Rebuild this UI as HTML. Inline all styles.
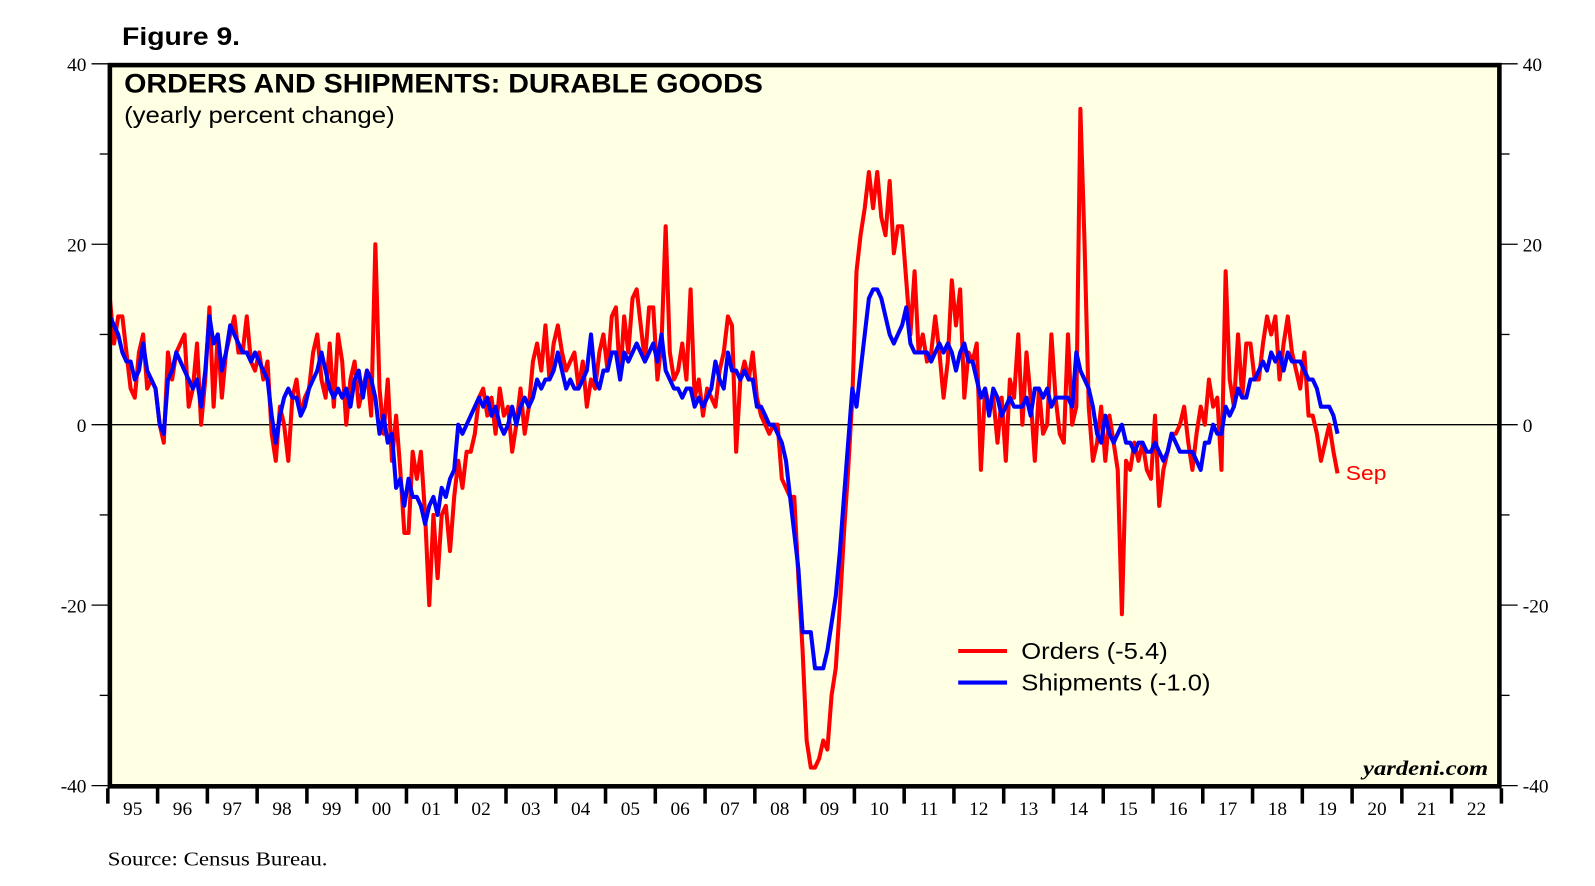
<!DOCTYPE html>
<html><head><meta charset="utf-8"><style>
html,body{margin:0;padding:0;background:#fff;}
svg{display:block;}
</style></head><body>
<svg id="chart" width="1595" height="886" viewBox="0 0 1568 871" preserveAspectRatio="none" xmlns="http://www.w3.org/2000/svg">
<text x="120" y="44" font-family="Liberation Sans, sans-serif" font-weight="bold" font-size="25" textLength="116" lengthAdjust="spacingAndGlyphs">Figure 9.</text>
<rect x="108" y="64" width="1366" height="709" fill="#FFFFE4"/>
<g id="grid"></g>
<g id="series"></g>
<rect x="108" y="64" width="1366" height="709" fill="none" stroke="#000" stroke-width="4.5"/>
<g id="axes"></g>
<text x="122" y="91" font-family="Liberation Sans, sans-serif" font-weight="bold" font-size="26" textLength="628" lengthAdjust="spacingAndGlyphs">ORDERS AND SHIPMENTS: DURABLE GOODS</text>
<text x="122" y="121" font-family="Liberation Sans, sans-serif" font-size="23" textLength="266" lengthAdjust="spacingAndGlyphs">(yearly percent change)</text>
<g>
<line x1="942" y1="640" x2="990" y2="640" stroke="#f00" stroke-width="4"/>
<text x="1004" y="648" font-family="Liberation Sans, sans-serif" font-size="23" textLength="144" lengthAdjust="spacingAndGlyphs">Orders (-5.4)</text>
<line x1="942" y1="671" x2="990" y2="671" stroke="#00f" stroke-width="4"/>
<text x="1004" y="679" font-family="Liberation Sans, sans-serif" font-size="23" textLength="186" lengthAdjust="spacingAndGlyphs">Shipments (-1.0)</text>
</g>
<text x="1323" y="472" fill="#f00" font-family="Liberation Sans, sans-serif" font-size="20" textLength="40" lengthAdjust="spacingAndGlyphs">Sep</text>
<text x="1340" y="762" font-family="Liberation Serif, serif" font-style="italic" font-weight="bold" font-size="21" textLength="123" lengthAdjust="spacingAndGlyphs">yardeni.com</text>
<text x="106" y="851" font-family="Liberation Serif, serif" font-size="20" textLength="216" lengthAdjust="spacingAndGlyphs">Source: Census Bureau.</text>
</svg>
<script>
const yearLabels = ["95","96","97","98","99","00","01","02","03","04","05","06","07","08","09","10","11","12","13","14","15","16","17","18","19","20","21","22"];
const yTicks = [40,20,0,-20,-40];
const orders = [
14,9,12,12,8,4,3,8,10,4,5,4,
0,-2,8,5,8,9,10,2,4,9,0,5,
13,2,10,3,8,10,12,8,8,12,7,6,
8,5,7,-1,-4,2,0,-4,3,5,1,3,
4,8,10,5,3,9,2,10,7,0,5,7,
2,4,6,1,20,4,-1,5,-4,1,-5,-12,
-12,-3,-6,-3,-10,-20,-10,-17,-10,-9,-14,-8,
-4,-7,-3,-3,-1,3,4,1,3,-1,4,1,
2,-3,0,4,-1,2,7,9,6,11,5,9,
11,8,6,7,8,4,7,2,5,4,8,10,
6,12,13,5,12,8,14,15,11,7,13,13,
5,9,22,8,5,6,9,5,15,3,5,1,
4,3,2,6,8,12,11,-3,5,7,5,8,
3,1,0,-1,0,0,-6,-7,-8,-8,-17,-25,
-35,-38,-38,-37,-35,-36,-30,-27,-20,-12,-5,3,
17,21,24,28,24,28,23,21,27,19,22,22,
16,10,17,8,10,7,8,12,8,3,7,16,
11,15,3,8,7,9,-5,4,2,3,-2,3,
-4,5,3,10,0,8,3,-4,4,-1,0,10,
3,-1,-2,10,0,2,35,20,2,-4,-2,2,
-4,1,-2,-5,-21,-4,-5,-2,-4,-2,-5,-6,
1,-9,-5,-3,-1,-1,0,2,-2,-5,-1,2,
0,5,2,3,-5,17,5,2,10,3,9,9,
5,5,9,12,10,12,5,9,12,8,6,4,
8,1,1,-1,-4,-2,0,-3,-5.4];
const shipments = [
12,11,10,8,7,7,5,6,9,6,5,4,
0,-1,5,6,8,7,6,5,4,5,2,6,
12,9,10,6,8,11,10,9,8,8,7,8,
7,6,5,1,-2,1,3,4,3,3,1,2,
4,5,6,8,6,4,3,4,3,4,2,5,
6,3,6,5,3,-1,1,-2,-1,-7,-6,-9,
-6,-8,-8,-9,-11,-9,-8,-10,-7,-8,-6,-5,
0,-1,0,1,2,3,2,3,1,2,0,-1,
0,2,0,2,3,2,3,5,4,5,5,6,
8,6,4,5,4,4,5,6,10,5,4,6,
6,8,8,5,8,7,8,9,8,7,8,9,
7,10,6,5,4,4,3,4,4,2,3,2,
3,4,7,5,4,8,6,6,5,6,5,5,
2,2,1,0,0,-1,-2,-4,-8,-12,-16,-23,
-23,-23,-27,-27,-27,-25,-22,-19,-14,-8,-2,4,
2,6,10,14,15,15,14,12,10,9,10,11,
13,9,8,8,8,8,7,8,9,8,9,8,
6,8,9,7,7,5,3,4,1,4,3,1,
2,3,2,2,2,3,1,4,4,3,4,2,
3,3,3,3,2,8,6,5,4,2,-1,-2,
1,-1,-2,-1,0,-2,-2,-3,-2,-2,-3,-3,
-2,-3,-4,-3,-1,-2,-3,-3,-3,-3,-4,-5,
-2,-2,0,-1,-1,2,1,2,4,3,3,5,
5,6,7,6,8,7,8,6,8,7,7,7,
6,5,5,4,2,2,2,1,-1];

const NS = "http://www.w3.org/2000/svg";
const X0 = 106, X1 = 1476, YEARS = 28, Y0 = 417.5, YS = 8.87;
const yearW = (X1 - X0) / YEARS;
function xScale(m){ return X0 + (m + 0.5) * yearW / 12; }
function yScale(v){ return Y0 - v * YS; }
function mk(tag, attrs, parent){ const e = document.createElementNS(NS, tag); for (const k in attrs) e.setAttribute(k, attrs[k]); parent.appendChild(e); return e; }

const grid = document.getElementById('grid');
const zl = mk('line', {x1:X0, x2:X1, y1:yScale(0), y2:yScale(0), stroke:'#000', 'stroke-width':1.3}, grid);



const axes = document.getElementById('axes');
for (let v = -40; v <= 40; v += 10) {
  const major = v % 20 === 0;
  const y = yScale(v);
  const tl = mk('line', {x1: major ? 90 : 98, x2: 106, y1: y, y2: y, stroke:'#000', 'stroke-width':1.3}, axes);
  
  
  const tr = mk('line', {x1: 1476, x2: major ? 1492 : 1484, y1: y, y2: y, stroke:'#000', 'stroke-width':1.3}, axes);
  
  
}
yTicks.forEach(v => {
  const y = yScale(v);
  const l = mk('text', {x:85, y:y+7, 'text-anchor':'end', 'font-family':'Liberation Serif, serif', 'font-size':19}, axes);
  l.textContent = v;
  
  
  const r = mk('text', {x:1497, y:y+7, 'font-family':'Liberation Serif, serif', 'font-size':19}, axes);
  r.textContent = v;
  
  
});
for (let i = 0; i <= YEARS; i++) {
  const x = X0 + i * yearW;
  const t = mk('line', {x1:x, x2:x, y1:775, y2:790, stroke:'#000', 'stroke-width':3.5}, axes);
  
  
}
yearLabels.forEach((lab, i) => {
  const t = mk('text', {x: X0 + (i + 0.5) * yearW, y: 801, 'text-anchor':'middle', 'font-family':'Liberation Serif, serif', 'font-size':19}, axes);
  t.textContent = lab;
  
  
});

const series = document.getElementById('series');
function path(arr){ return arr.map((v,i)=>(i?'L':'M')+xScale(i).toFixed(1)+','+yScale(v).toFixed(1)).join(''); }
const po = mk('path', {d:path(orders), fill:'none', stroke:'#f00', 'stroke-width':4, 'stroke-linejoin':'round'}, series);


const ps = mk('path', {d:path(shipments), fill:'none', stroke:'#00f', 'stroke-width':4, 'stroke-linejoin':'round'}, series);


</script>
</body></html>
